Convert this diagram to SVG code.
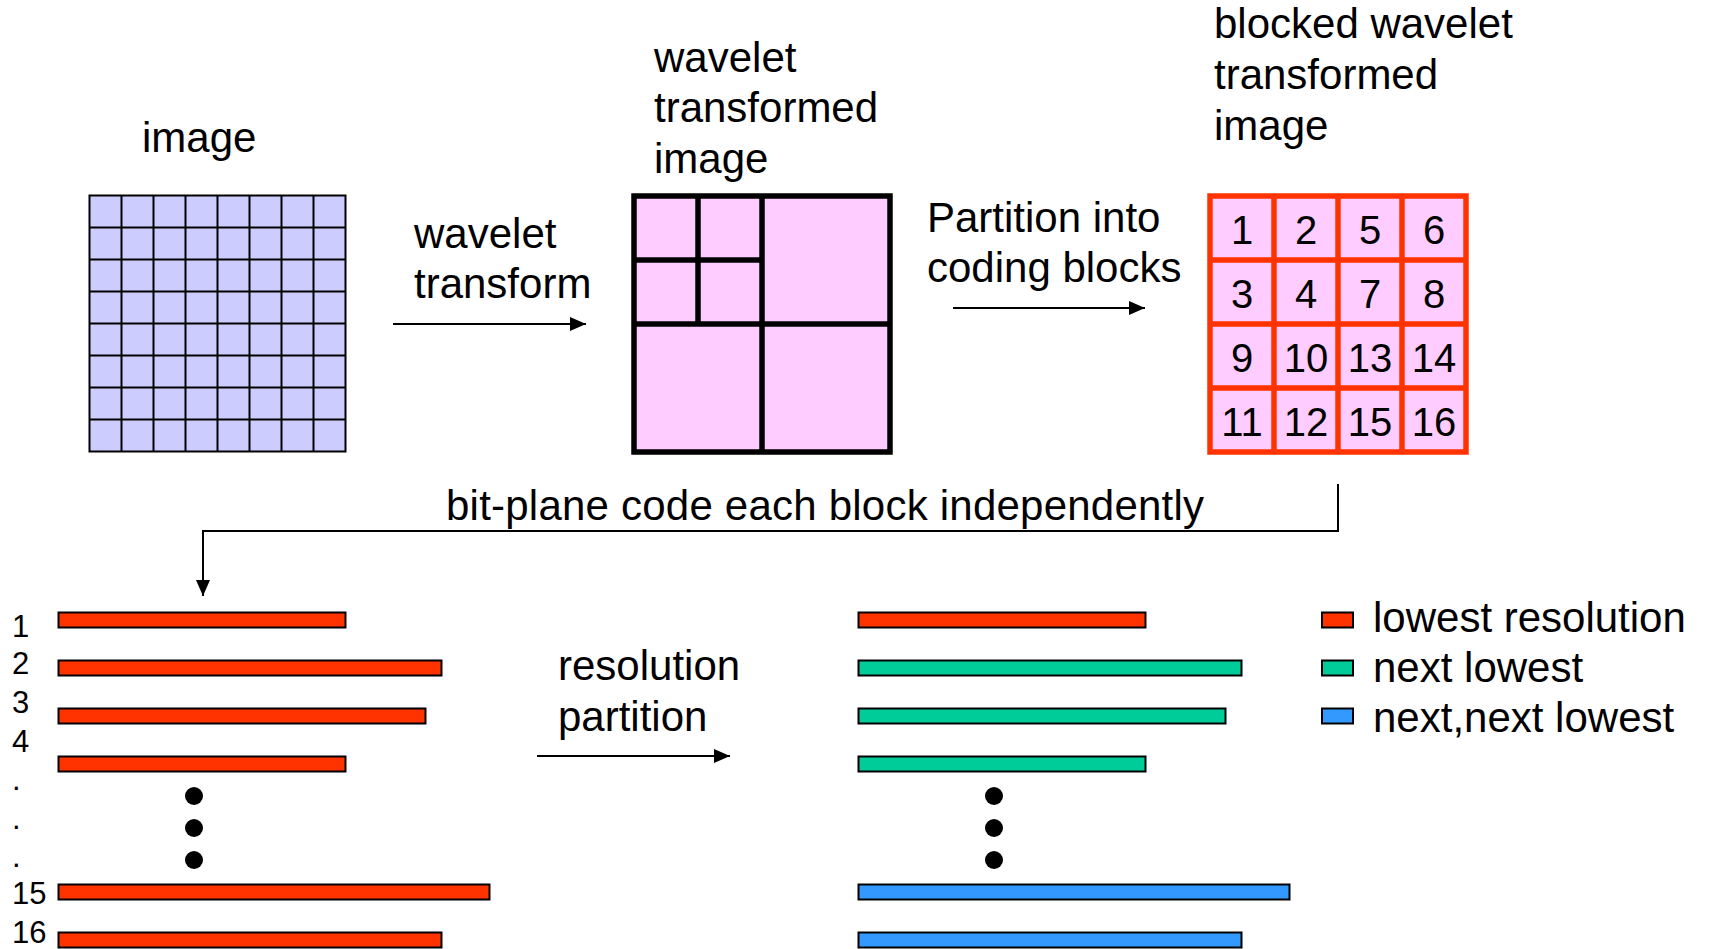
<svg xmlns="http://www.w3.org/2000/svg" width="1712" height="949" viewBox="0 0 1712 949">
  <style>
    text { font-family: "Liberation Sans", Arial, sans-serif; fill: #000; }
    .lbl { font-size: 42px; }
    .num { font-size: 40px; text-anchor: middle; }
    .row { font-size: 31px; }
    .grid { fill: none; stroke: #000; stroke-width: 2; }
    .wbox { fill: #ffccff; stroke: #000; stroke-width: 5.5; }
    .wline { stroke: #000; stroke-width: 5.5; }
    .bbox { fill: #ffccff; stroke: #ff3300; stroke-width: 5.5; }
    .bline { stroke: #ff3300; stroke-width: 5.5; }
    .bar { stroke: #000; stroke-width: 2; }
    .red { fill: #ff3300; }
    .green { fill: #00cc99; }
    .blue { fill: #3399ff; }
    .conn { fill: none; stroke: #000; stroke-width: 2; }
  </style>
  <defs>
    <marker id="arrow" markerUnits="userSpaceOnUse" markerWidth="16" markerHeight="14" refX="16" refY="7" orient="auto">
      <path d="M0,0 L16,7 L0,14 z" fill="#000"/>
    </marker>
  </defs>

  <rect width="1712" height="949" fill="#fff"/>

  <!-- original image: 8x8 pixel grid -->
  <g id="image">
    <text class="lbl" x="142" y="152">image</text>
    <rect x="89.5" y="195.5" width="256" height="256" fill="#ccccff"/>
    <path class="grid" d="M89.5,195.5 h256 v256 h-256 z
      M121.5,195.5 v256 M153.5,195.5 v256 M185.5,195.5 v256 M217.5,195.5 v256
      M249.5,195.5 v256 M281.5,195.5 v256 M313.5,195.5 v256
      M89.5,227.5 h256 M89.5,259.5 h256 M89.5,291.5 h256 M89.5,323.5 h256
      M89.5,355.5 h256 M89.5,387.5 h256 M89.5,419.5 h256"/>
  </g>

  <!-- wavelet transformed image: two-level subband layout -->
  <g id="wavelet">
    <text class="lbl" x="654" y="72">wavelet</text>
    <text class="lbl" x="654" y="122">transformed</text>
    <text class="lbl" x="654" y="173">image</text>
    <rect class="wbox" x="634" y="196" width="256" height="256"/>
    <line class="wline" x1="762" y1="196" x2="762" y2="452"/>
    <line class="wline" x1="634" y1="324" x2="890" y2="324"/>
    <line class="wline" x1="698" y1="196" x2="698" y2="324"/>
    <line class="wline" x1="634" y1="260" x2="762" y2="260"/>
  </g>

  <!-- blocked wavelet transformed image: 4x4 coding blocks -->
  <g id="blocked">
    <text class="lbl" x="1214" y="38">blocked wavelet</text>
    <text class="lbl" x="1214" y="89">transformed</text>
    <text class="lbl" x="1214" y="140">image</text>
    <rect class="bbox" x="1210" y="196" width="256" height="256"/>
    <line class="bline" x1="1274" y1="196" x2="1274" y2="452"/>
    <line class="bline" x1="1338" y1="196" x2="1338" y2="452"/>
    <line class="bline" x1="1402" y1="196" x2="1402" y2="452"/>
    <line class="bline" x1="1210" y1="260" x2="1466" y2="260"/>
    <line class="bline" x1="1210" y1="324" x2="1466" y2="324"/>
    <line class="bline" x1="1210" y1="388" x2="1466" y2="388"/>
    <text class="num" x="1242" y="244">1</text>
    <text class="num" x="1306" y="244">2</text>
    <text class="num" x="1370" y="244">5</text>
    <text class="num" x="1434" y="244">6</text>
    <text class="num" x="1242" y="308">3</text>
    <text class="num" x="1306" y="308">4</text>
    <text class="num" x="1370" y="308">7</text>
    <text class="num" x="1434" y="308">8</text>
    <text class="num" x="1242" y="372">9</text>
    <text class="num" x="1306" y="372">10</text>
    <text class="num" x="1370" y="372">13</text>
    <text class="num" x="1434" y="372">14</text>
    <text class="num" x="1242" y="436">11</text>
    <text class="num" x="1306" y="436">12</text>
    <text class="num" x="1370" y="436">15</text>
    <text class="num" x="1434" y="436">16</text>
  </g>

  <!-- bit-plane coded blocks -->
  <g id="coded">
    <text class="row" x="12" y="637">1</text>
    <text class="row" x="12" y="674">2</text>
    <text class="row" x="12" y="713">3</text>
    <text class="row" x="12" y="752">4</text>
    <text class="row" x="12" y="790">.</text>
    <text class="row" x="12" y="829">.</text>
    <text class="row" x="12" y="867">.</text>
    <text class="row" x="12" y="904">15</text>
    <text class="row" x="12" y="943">16</text>
    <rect class="bar red" x="58.5" y="612.5" width="287" height="15"/>
    <rect class="bar red" x="58.5" y="660.5" width="383" height="15"/>
    <rect class="bar red" x="58.5" y="708.5" width="367" height="15"/>
    <rect class="bar red" x="58.5" y="756.5" width="287" height="15"/>
    <circle cx="194" cy="796" r="9"/>
    <circle cx="194" cy="828" r="9"/>
    <circle cx="194" cy="860" r="9"/>
    <rect class="bar red" x="58.5" y="884.5" width="431" height="15"/>
    <rect class="bar red" x="58.5" y="932.5" width="383" height="15"/>
  </g>

  <!-- blocks grouped by resolution -->
  <g id="partitioned">
    <rect class="bar red" x="858.5" y="612.5" width="287" height="15"/>
    <rect class="bar green" x="858.5" y="660.5" width="383" height="15"/>
    <rect class="bar green" x="858.5" y="708.5" width="367" height="15"/>
    <rect class="bar green" x="858.5" y="756.5" width="287" height="15"/>
    <circle cx="994" cy="796" r="9"/>
    <circle cx="994" cy="828" r="9"/>
    <circle cx="994" cy="860" r="9"/>
    <rect class="bar blue" x="858.5" y="884.5" width="431" height="15"/>
    <rect class="bar blue" x="858.5" y="932.5" width="383" height="15"/>
  </g>

  <!-- legend -->
  <g id="legend">
    <rect class="bar red" x="1322" y="612.5" width="31" height="15"/>
    <rect class="bar green" x="1322" y="660.5" width="31" height="15"/>
    <rect class="bar blue" x="1322" y="708.5" width="31" height="15"/>
    <text class="lbl" x="1373" y="632">lowest resolution</text>
    <text class="lbl" x="1373" y="682">next lowest</text>
    <text class="lbl" x="1373" y="732">next,next lowest</text>
  </g>

  <!-- connectors and their labels -->
  <g id="connectors">
    <text class="lbl" x="414" y="248">wavelet</text>
    <text class="lbl" x="414" y="298">transform</text>
    <line class="conn" x1="393" y1="324" x2="586" y2="324" marker-end="url(#arrow)"/>

    <text class="lbl" x="927" y="232">Partition into</text>
    <text class="lbl" x="927" y="282">coding blocks</text>
    <line class="conn" x1="953" y1="308" x2="1145" y2="308" marker-end="url(#arrow)"/>

    <text class="lbl" x="446" y="520" textLength="758" lengthAdjust="spacing">bit-plane code each block independently</text>
    <polyline class="conn" points="1338,484 1338,531 203,531 203,596" marker-end="url(#arrow)"/>

    <text class="lbl" x="558" y="680">resolution</text>
    <text class="lbl" x="558" y="731">partition</text>
    <line class="conn" x1="537" y1="756" x2="730" y2="756" marker-end="url(#arrow)"/>
  </g>
</svg>
